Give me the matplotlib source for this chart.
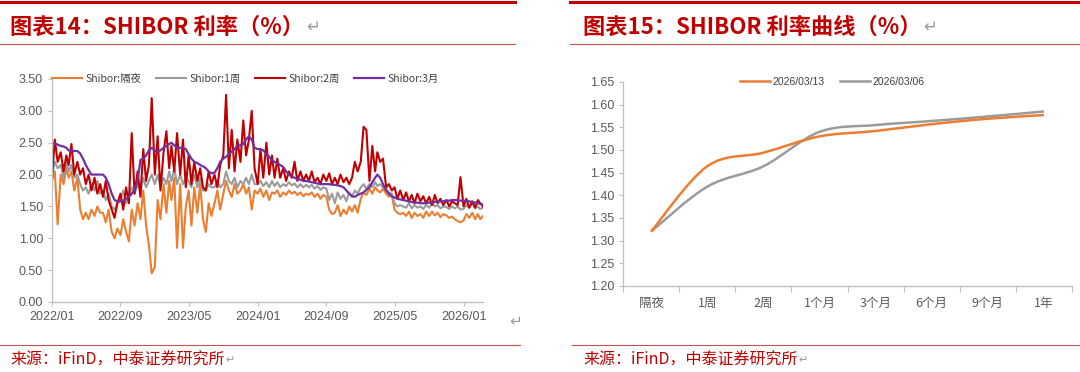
import pandas as pd
import matplotlib
matplotlib.use("Agg")
import matplotlib.pyplot as plt
import matplotlib.dates as mdates
from matplotlib.path import Path
from matplotlib.patches import PathPatch
from matplotlib.lines import Line2D

plt.rcParams["font.family"] = ["Liberation Sans", "Noto Sans CJK SC", "DejaVu Sans"]

# 1. Left chart data - SHIBOR, three readings per month (1st, 11th, 21st)
shibor_on = [
    1.90, 2.05, 1.22, 2.00, 1.85, 2.10, 1.95, 2.05, 1.75, 1.95, 1.45, 1.30,
    1.40, 1.30, 1.45, 1.35, 1.50, 1.40, 1.40, 1.25, 1.45, 1.10, 1.00, 1.15,
    1.05, 1.30, 1.10, 0.95, 1.45, 1.20, 1.55, 1.30, 1.75, 1.20, 0.90, 0.45,
    0.55, 1.60, 1.30, 1.85, 1.40, 1.90, 1.60, 1.95, 0.85, 1.85, 0.85, 1.50,
    1.75, 1.20, 1.80, 1.40, 1.85, 1.30, 1.10, 1.55, 1.35, 1.55, 1.75, 1.45,
    1.70, 1.90, 1.75, 1.65, 1.85, 1.70, 1.75, 1.85, 1.70, 1.80, 1.45, 1.75,
    1.70, 1.78, 1.65, 1.75, 1.60, 1.72, 1.70, 1.75, 1.65, 1.72, 1.68, 1.75,
    1.70, 1.73, 1.68, 1.72, 1.66, 1.70, 1.68, 1.72, 1.65, 1.70, 1.62, 1.68,
    1.65, 1.45, 1.38, 1.40, 1.52, 1.35, 1.45, 1.38, 1.50, 1.42, 1.52, 1.40,
    1.62, 1.72, 1.68, 1.78, 1.70, 1.80, 1.75, 1.72, 1.78, 1.70, 1.65, 1.68,
    1.45, 1.40, 1.38, 1.40, 1.35, 1.42, 1.32, 1.40, 1.35, 1.38, 1.32, 1.42,
    1.35, 1.42, 1.36, 1.40, 1.33, 1.38, 1.36, 1.32, 1.34, 1.30, 1.27, 1.25,
    1.28, 1.38, 1.32, 1.40, 1.30, 1.38, 1.30, 1.35,
]
shibor_1w = [
    2.00, 2.20, 2.10, 2.15, 1.95, 2.20, 2.05, 2.15, 1.95, 2.00, 1.85, 1.75,
    1.80, 1.70, 1.85, 1.75, 1.90, 1.70, 1.75, 1.60, 1.70, 1.50, 1.45, 1.55,
    1.60, 1.75, 1.55, 1.65, 1.80, 1.70, 1.85, 1.75, 1.95, 1.80, 1.90, 2.00,
    1.85, 2.00, 1.80, 1.95, 1.85, 2.05, 1.90, 2.10, 1.85, 2.00, 1.85, 1.95,
    1.90, 1.80, 2.00, 1.80, 1.95, 1.75, 1.75, 1.85, 1.80, 1.80, 1.90, 1.80,
    1.85, 2.05, 1.90, 1.85, 1.95, 1.80, 1.90, 1.85, 1.95, 1.85, 2.00, 1.85,
    1.85, 1.90, 1.82, 1.88, 1.80, 1.90, 1.82, 1.88, 1.80, 1.85, 1.82, 1.88,
    1.83, 1.86, 1.80, 1.85, 1.80, 1.84, 1.80, 1.84, 1.78, 1.82, 1.76, 1.80,
    1.78, 1.60, 1.70, 1.55, 1.72, 1.62, 1.68, 1.58, 1.72, 1.65, 1.75, 1.70,
    1.80, 1.85, 1.78, 1.85, 1.80, 1.88, 1.82, 1.85, 1.80, 1.78, 1.72, 1.70,
    1.55, 1.50, 1.52, 1.50, 1.48, 1.55, 1.47, 1.52, 1.48, 1.50, 1.46, 1.52,
    1.48, 1.55, 1.50, 1.52, 1.47, 1.50, 1.49, 1.46, 1.50, 1.47, 1.50, 1.45,
    1.46, 1.52, 1.48, 1.55, 1.47, 1.50, 1.46, 1.48,
]
shibor_2w = [
    1.95, 2.55, 2.20, 2.35, 2.05, 2.30, 2.15, 2.48, 2.00, 2.20, 2.00, 2.10,
    1.85, 2.00, 1.75, 1.95, 1.70, 1.85, 1.65, 1.90, 1.60, 1.45, 1.32, 1.55,
    1.70, 1.45, 1.80, 1.55, 2.65, 1.70, 2.05, 1.65, 2.40, 1.90, 2.15, 3.20,
    2.00, 2.60, 1.75, 2.35, 2.68, 2.10, 2.45, 2.05, 2.65, 2.00, 2.55, 1.80,
    2.30, 1.85, 2.20, 1.90, 2.10, 1.80, 1.75, 2.05, 1.85, 2.00, 1.80, 2.15,
    2.30, 3.25, 2.10, 2.70, 2.05, 2.55, 2.20, 2.85, 2.30, 2.55, 3.00, 2.10,
    1.85, 2.40, 1.95, 2.50, 2.00, 2.30, 1.95, 2.25, 1.95, 2.10, 1.90, 2.05,
    1.95, 2.20, 1.90, 2.05, 1.90, 2.00, 1.90, 2.05, 1.88, 1.95, 1.85, 2.00,
    1.90, 2.02, 1.85, 1.95, 1.85, 2.00, 1.88, 1.95, 1.85, 1.95, 2.20, 2.05,
    2.20, 2.75, 2.70, 1.90, 2.45, 2.05, 2.35, 2.20, 2.25, 1.80, 1.85, 1.75,
    1.80, 1.62, 1.75, 1.60, 1.72, 1.58, 1.68, 1.55, 1.70, 1.58, 1.66, 1.55,
    1.65, 1.52, 1.68, 1.55, 1.62, 1.52, 1.60, 1.50, 1.58, 1.55, 1.52, 1.96,
    1.50, 1.62, 1.48, 1.58, 1.48, 1.60, 1.55, 1.50,
]
shibor_3m = [
    2.50, 2.49, 2.47, 2.45, 2.44, 2.42, 2.38, 2.37, 2.37, 2.37, 2.33, 2.25,
    2.15, 2.07, 2.00, 2.00, 2.00, 2.00, 2.00, 1.95, 1.85, 1.70, 1.60, 1.58,
    1.58, 1.59, 1.62, 1.65, 1.70, 1.75, 1.90, 2.23, 2.25, 2.30, 2.38, 2.42,
    2.38, 2.36, 2.38, 2.42, 2.45, 2.48, 2.50, 2.46, 2.42, 2.42, 2.42, 2.40,
    2.32, 2.25, 2.20, 2.18, 2.15, 2.13, 2.10, 2.05, 2.02, 2.03, 2.10, 2.20,
    2.25, 2.28, 2.32, 2.36, 2.40, 2.45, 2.46, 2.48, 2.55, 2.60, 2.55, 2.42,
    2.40, 2.40, 2.38, 2.32, 2.28, 2.22, 2.20, 2.18, 2.15, 2.12, 2.05, 2.00,
    1.97, 1.95, 1.93, 1.92, 1.90, 1.90, 1.89, 1.88, 1.87, 1.86, 1.85, 1.85,
    1.85, 1.85, 1.84, 1.84, 1.83, 1.82, 1.80, 1.75, 1.70, 1.66, 1.65, 1.68,
    1.70, 1.72, 1.76, 1.80, 1.88, 1.95, 2.00, 1.95, 1.85, 1.75, 1.70, 1.66,
    1.64, 1.62, 1.61, 1.60, 1.59, 1.58, 1.57, 1.56, 1.56, 1.55, 1.55, 1.55,
    1.56, 1.56, 1.57, 1.58, 1.58, 1.58, 1.59, 1.59, 1.60, 1.60, 1.60, 1.59,
    1.59, 1.58, 1.58, 1.57, 1.56, 1.55, 1.54, 1.53,
]
months = pd.period_range("2022-01", "2026-03", freq="M")
dates = [m.to_timestamp() + pd.Timedelta(days=d) for m in months for d in (0, 10, 20)]
dates = dates[:len(shibor_on)]

left_ticks = ["2022/01", "2022/09", "2023/05", "2024/01", "2024/09", "2025/05", "2026/01"]

# 2. Right chart data - SHIBOR curve on two dates
tenors = ["隔夜", "1周", "2周", "1个月", "3个月", "6个月", "9个月", "1年"]
curve_0313 = [1.320, 1.464, 1.494, 1.530, 1.542, 1.557, 1.569, 1.577]
curve_0306 = [1.320, 1.419, 1.464, 1.540, 1.555, 1.564, 1.574, 1.585]

RED = "#C00000"
ORANGE = "#ED7D31"
GRAY = "#9B9B9B"
PURPLE = "#7030A0"
TXT = "#595959"
AXC = "#BFBFBF"
CJK = ["Noto Sans CJK SC", "DejaVu Sans"]


def smooth_path(xs, ys):
    # Excel style smoothed line: Catmull-Rom segments as cubic beziers
    n = len(xs)
    verts = [(xs[0], ys[0])]
    codes = [Path.MOVETO]
    for i in range(n - 1):
        a, b = max(i - 1, 0), min(i + 2, n - 1)
        c1 = (xs[i] + (xs[i + 1] - xs[a]) / 6, ys[i] + (ys[i + 1] - ys[a]) / 6)
        c2 = (xs[i + 1] - (xs[b] - xs[i]) / 6, ys[i + 1] - (ys[b] - ys[i]) / 6)
        verts += [c1, c2, (xs[i + 1], ys[i + 1])]
        codes += [Path.CURVE4] * 3
    return Path(verts, codes)


def style_axes(ax):
    for s in ["top", "right"]:
        ax.spines[s].set_visible(False)
    for s in ["left", "bottom"]:
        ax.spines[s].set_color(AXC)
        ax.spines[s].set_linewidth(0.9)
    ax.tick_params(colors=AXC, labelcolor=TXT, labelsize=9, length=3, width=0.8)


fig = plt.figure(figsize=(10.8, 3.72), dpi=100)

# 3. Header and footer decorations
fig.add_artist(Line2D([0, 515 / 1080], [1 - 2 / 372] * 2, color=RED, lw=2.2))
fig.add_artist(Line2D([570 / 1080, 1], [1 - 2 / 372] * 2, color=RED, lw=2.2))
fig.add_artist(Line2D([0, 515 / 1080], [1 - 44 / 372] * 2, color="#C85050", lw=0.8))
fig.add_artist(Line2D([570 / 1080, 1], [1 - 44 / 372] * 2, color="#C85050", lw=0.8))
fig.add_artist(Line2D([0, 520 / 1080], [1 - 345 / 372] * 2, color="#C85050", lw=0.8))
fig.add_artist(Line2D([572 / 1080, 1], [1 - 345 / 372] * 2, color="#C85050", lw=0.8))

texts = []
texts.append(fig.text(10 / 1080, 1 - 27 / 372, "图表14：SHIBOR 利率（%）", color=RED, fontsize=16,
                      fontweight="bold", va="center", family=CJK))
texts.append(fig.text(583 / 1080, 1 - 27 / 372, "图表15：SHIBOR 利率曲线（%）", color=RED, fontsize=16,
                      fontweight="bold", va="center", family=CJK))
for x0 in (10, 583):
    texts.append(fig.text(x0 / 1080, 1 - 360 / 372, "来源：iFinD，中泰证券研究所", color=RED,
                          fontsize=11.5, va="center", family=CJK))

# return marks placed right after each heading / footer text
fig.canvas.draw()
renderer = fig.canvas.get_renderer()
for t, size, gap in zip(texts, (12, 12, 8, 8), (2, 2, 1, 1)):
    bb = t.get_window_extent(renderer)
    fig.text((bb.x1 + gap) / 1080, t.get_position()[1], "↵", color="#999999", fontsize=size,
             va="center", family="DejaVu Sans")
fig.text(509 / 1080, 1 - 321 / 372, "↵", color="#999999", fontsize=11, va="center", family="DejaVu Sans")

# 4. Left chart - SHIBOR time series
ax1 = fig.add_axes([52 / 1080, 1 - 302 / 372, 431 / 1080, 223 / 372])
ax1.plot(dates, shibor_on, color=ORANGE, lw=1.5, label="Shibor:隔夜")
ax1.plot(dates, shibor_1w, color=GRAY, lw=1.5, label="Shibor:1周")
ax1.plot(dates, shibor_2w, color=RED, lw=1.5, label="Shibor:2周")
ax1.plot(dates, shibor_3m, color=PURPLE, lw=1.6, label="Shibor:3月")
ax1.set_ylim(0, 3.5)
ax1.set_yticks([i * 0.5 for i in range(8)])
ax1.yaxis.set_major_formatter(matplotlib.ticker.FormatStrFormatter("%.2f"))
ax1.set_xlim(dates[0], dates[-1])
ax1.set_xticks([pd.Timestamp(t.replace("/", "-") + "-01") for t in left_ticks])
ax1.xaxis.set_major_formatter(mdates.DateFormatter("%Y/%m"))
style_axes(ax1)
ax1.legend(loc="center left", bbox_to_anchor=(0, 1.0), ncol=4, frameon=False,
           handlelength=2.9, handletextpad=0.3, columnspacing=1.4, borderpad=0, borderaxespad=0,
           labelcolor="#404040", prop={"family": CJK, "size": 7.5})

# 5. Right chart - SHIBOR curve
ax2 = fig.add_axes([623 / 1080, 1 - 286 / 372, 449 / 1080, 204 / 372])
xs = list(range(len(tenors)))
ax2.add_patch(PathPatch(smooth_path(xs, curve_0306), fill=False, edgecolor=GRAY, lw=1.8))
ax2.add_patch(PathPatch(smooth_path(xs, curve_0313), fill=False, edgecolor=ORANGE, lw=1.8))
ax2.set_xlim(-0.5, len(tenors) - 0.5)
ax2.set_ylim(1.20, 1.65)
ax2.set_yticks([1.20 + i * 0.05 for i in range(10)])
ax2.yaxis.set_major_formatter(matplotlib.ticker.FormatStrFormatter("%.2f"))
ax2.set_xticks(xs)
ax2.set_xticklabels(tenors, family=CJK)
ax2.set_xticks([x - 0.5 for x in range(len(tenors) + 1)], minor=True)
style_axes(ax2)
ax2.tick_params(axis="x", which="major", length=0, pad=8)
ax2.tick_params(axis="x", which="minor", length=4, color=AXC, width=0.8)
handles = [Line2D([], [], color=ORANGE, lw=1.8), Line2D([], [], color=GRAY, lw=1.8)]
ax2.legend(handles, ["2026/03/13", "2026/03/06"], loc="center", bbox_to_anchor=(0.466, 1.0), ncol=2,
           frameon=False, handlelength=2.9, handletextpad=0.3, columnspacing=1.4, borderpad=0,
           borderaxespad=0, labelcolor="#404040", prop={"size": 7.5})

fig.savefig("out.png", dpi=100, facecolor="white")
